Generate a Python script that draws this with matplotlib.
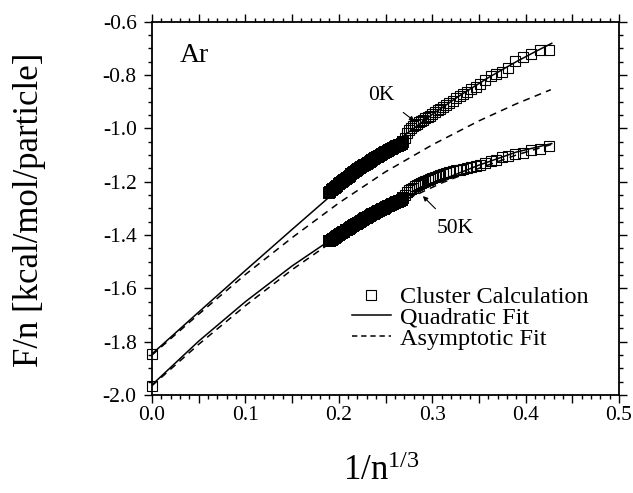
import matplotlib
matplotlib.use("Agg")
import matplotlib.pyplot as plt
from matplotlib.ticker import MultipleLocator, FuncFormatter
from matplotlib.lines import Line2D

plt.rcParams['font.family'] = ['Liberation Serif', 'DejaVu Serif']
plt.rcParams['mathtext.fontset'] = 'custom'
plt.rcParams['mathtext.rm'] = 'Liberation Serif'
plt.rcParams['mathtext.it'] = 'Liberation Serif:italic'

# ---- Cluster calculation data (x = 1/n^(1/3), y = F/n in kcal/mol/particle) ----
# bulk limit points (x = 0)
x_bulk = [0.0, 0.0]
y_bulk = [-1.848, -1.965]

# dense part of the cluster data (large clusters)
x_dense = [0.1895, 0.1910, 0.1925, 0.1940, 0.1955, 0.1970, 0.1985, 0.2000,
           0.2015, 0.2030, 0.2045, 0.2060, 0.2075, 0.2090,
           0.2105, 0.2120, 0.2135, 0.2150, 0.2165, 0.2180, 0.2195,
           0.2210, 0.2225, 0.2240, 0.2255, 0.2270, 0.2285, 0.2300,
           0.2315, 0.2330, 0.2345, 0.2360, 0.2375, 0.2390,
           0.2405, 0.2420, 0.2435, 0.2450, 0.2465, 0.2480, 0.2495,
           0.2510, 0.2525, 0.2540, 0.2555, 0.2570, 0.2585, 0.2600,
           0.2615, 0.2630, 0.2645, 0.2660, 0.2675, 0.2690]
y_dense_0K = [-1.242, -1.237, -1.233, -1.228, -1.224, -1.219, -1.215, -1.210,
              -1.206, -1.202, -1.197, -1.193, -1.189, -1.185,
              -1.181, -1.177, -1.173, -1.169, -1.165, -1.161, -1.157,
              -1.154, -1.150, -1.146, -1.143, -1.139, -1.136, -1.132,
              -1.129, -1.125, -1.122, -1.119, -1.116, -1.112,
              -1.109, -1.106, -1.103, -1.100, -1.096, -1.093, -1.090,
              -1.087, -1.084, -1.081, -1.079, -1.076, -1.073, -1.070,
              -1.068, -1.066, -1.064, -1.062, -1.058, -1.052]
y_dense_50K = [-1.424, -1.421, -1.417, -1.414, -1.410, -1.407, -1.403, -1.400,
               -1.397, -1.393, -1.390, -1.387, -1.383, -1.380,
               -1.377, -1.374, -1.370, -1.367, -1.364, -1.360, -1.357,
               -1.354, -1.351, -1.348, -1.344, -1.341, -1.338, -1.335,
               -1.332, -1.329, -1.326, -1.323, -1.320, -1.317,
               -1.314, -1.311, -1.309, -1.306, -1.303, -1.301, -1.298,
               -1.295, -1.293, -1.290, -1.288, -1.285, -1.283, -1.280,
               -1.278, -1.276, -1.274, -1.272, -1.268, -1.262]

# sparse part (small clusters)
x_sparse = [0.2714, 0.2733, 0.2752, 0.2771, 0.2791, 0.2811, 0.2834, 0.2855,
            0.2877, 0.2901, 0.2924, 0.2950, 0.2975, 0.3001, 0.3029, 0.3057,
            0.3087, 0.3117, 0.3150, 0.3183, 0.3218, 0.3255, 0.3293, 0.3333,
            0.3376, 0.3420, 0.3467, 0.3517, 0.3569, 0.3625, 0.3684, 0.3748,
            0.3816, 0.3889, 0.3969, 0.4055, 0.4149, 0.4254]
y_sparse_0K = [-1.035, -1.018, -1.005, -0.998, -0.993, -0.988, -0.983, -0.978,
               -0.974, -0.969, -0.963, -0.958, -0.952, -0.946, -0.940, -0.933,
               -0.926, -0.919, -0.911, -0.904, -0.896, -0.888, -0.880, -0.872,
               -0.864, -0.854, -0.844, -0.832, -0.818, -0.805, -0.797, -0.789,
               -0.775, -0.748, -0.733, -0.722, -0.706, -0.708]
y_sparse_50K = [-1.250, -1.240, -1.232, -1.226, -1.222, -1.218, -1.214, -1.210,
                -1.206, -1.202, -1.198, -1.194, -1.190, -1.186, -1.182, -1.178,
                -1.174, -1.171, -1.167, -1.164, -1.161, -1.158, -1.155, -1.152,
                -1.148, -1.145, -1.141, -1.137, -1.131, -1.124, -1.117, -1.109,
                -1.103, -1.097, -1.092, -1.083, -1.076, -1.067]

# ---- Quadratic fit curves ----
qx_0K = [0.0, 0.05, 0.10, 0.15, 0.19, 0.23, 0.27, 0.30, 0.33, 0.36, 0.39, 0.41, 0.428]
qy_0K = [-1.846, -1.689, -1.533, -1.379, -1.257, -1.139, -1.027, -0.948, -0.876, -0.810, -0.750, -0.713, -0.681]
qx_50K = [0.0, 0.05, 0.10, 0.15, 0.19, 0.23, 0.27, 0.31, 0.35, 0.39, 0.428]
qy_50K = [-1.962, -1.798, -1.650, -1.516, -1.421, -1.335, -1.261, -1.194, -1.138, -1.089, -1.057]

# ---- Asymptotic fit curves ----
ax_0K = [0.0, 0.05, 0.10, 0.15, 0.20, 0.25, 0.30, 0.35, 0.39, 0.427]
ay_0K = [-1.850, -1.697, -1.548, -1.410, -1.280, -1.163, -1.062, -0.972, -0.908, -0.855]
ax_50K = [0.0, 0.05, 0.10, 0.15, 0.19, 0.23, 0.27, 0.31, 0.35, 0.39, 0.428]
ay_50K = [-1.965, -1.810, -1.665, -1.530, -1.432, -1.345, -1.270, -1.205, -1.150, -1.100, -1.060]

legend_labels = ["Cluster Calculation", "Quadratic Fit", "Asymptotic Fit"]

fig = plt.figure(figsize=(6.33, 4.93), dpi=100)
ax = fig.add_axes([152/633, 98/493, 467/633, 373.3/493])

mk = dict(linestyle='none', marker='s', markersize=6.8, markerfacecolor='none',
          markeredgecolor='black', markeredgewidth=0.8, clip_on=False, zorder=3)
mk_dense = dict(mk, markersize=7.2, markeredgewidth=1.4)
ax.plot(x_bulk, y_bulk, **mk)
ax.plot(x_dense, y_dense_0K, **mk_dense)
ax.plot(x_dense, y_dense_50K, **mk_dense)
ax.plot(x_sparse, y_sparse_0K, **mk)
ax.plot(x_sparse, y_sparse_50K, **mk)

ax.plot(qx_0K, qy_0K, color='black', lw=1.1, zorder=2)
ax.plot(qx_50K, qy_50K, color='black', lw=1.1, zorder=2)
ax.plot(ax_0K, ay_0K, color='black', lw=1.1, linestyle=(0, (4.5, 3.5)), zorder=2)
ax.plot(ax_50K, ay_50K, color='black', lw=1.1, linestyle=(0, (4.5, 3.5)), zorder=2)

ax.set_xlim(0.0, 0.5)
ax.set_ylim(-2.0, -0.6)

ax.xaxis.set_major_locator(MultipleLocator(0.05))
ax.xaxis.set_minor_locator(MultipleLocator(0.01))
ax.xaxis.set_major_formatter(FuncFormatter(
    lambda v, p: f"{v:.1f}" if abs(v * 10 - round(v * 10)) < 1e-6 else ""))
ax.yaxis.set_major_locator(MultipleLocator(0.2))
ax.yaxis.set_minor_locator(MultipleLocator(0.05))
ax.yaxis.set_major_formatter(FuncFormatter(lambda v, p: f"{v:.1f}"))

ax.tick_params(which='both', direction='out', top=True, right=True,
               labeltop=False, labelright=False, width=1.0, labelsize=15.5)
ax.tick_params(which='major', length=6)
ax.tick_params(which='minor', length=3.2)
ax.tick_params(axis='x', which='major', pad=2)
ax.tick_params(axis='y', which='major', pad=5)
for s in ax.spines.values():
    s.set_linewidth(1.3)

ax.text(0.030, -0.751, "Ar", fontsize=20, ha='left', va='baseline')

ax.annotate("0K", xy=(0.281, -0.973), xytext=(0.245, -0.875), fontsize=15.5,
            ha='center', va='center',
            arrowprops=dict(arrowstyle='-|>', lw=0.8, color='black',
                            mutation_scale=7, shrinkA=6, shrinkB=0))
ax.annotate("50K", xy=(0.290, -1.254), xytext=(0.325, -1.377), fontsize=15.5,
            ha='center', va='center',
            arrowprops=dict(arrowstyle='-|>', lw=0.8, color='black',
                            mutation_scale=7, shrinkA=8, shrinkB=0))

handles = [
    Line2D([], [], linestyle='none', marker='s', markersize=6.8, markerfacecolor='none',
           markeredgecolor='black', markeredgewidth=0.8),
    Line2D([], [], color='black', lw=1.1),
    Line2D([], [], color='black', lw=1.1, linestyle=(0, (3.5, 2.5))),
]
ax.legend(handles, legend_labels, loc='upper left', bbox_to_anchor=(0.428, 0.292),
          frameon=False, fontsize=17.5, borderpad=0, borderaxespad=0,
          handlelength=1.6, handletextpad=0.4, labelspacing=-0.05)

fig.text(30/633, 1 - 210/493, "F/n [kcal/mol/particle]", rotation=90,
         ha='center', va='center', fontsize=25)
fig.text(381/633, 1 - 472/493, r"$\mathrm{1/n}^{\mathrm{1/3}}$",
         ha='center', va='center', fontsize=25)

fig.savefig("out.png", dpi=100)
